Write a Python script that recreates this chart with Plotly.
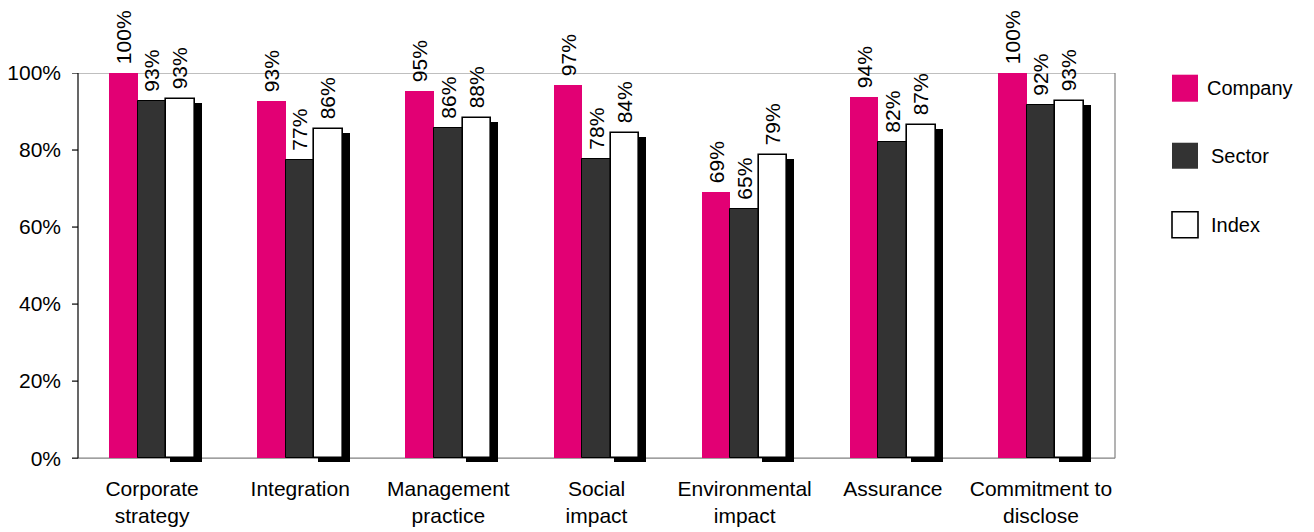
import plotly.graph_objects as go

# Scores per dimension (%)
categories = ["Corporate<br>strategy", "Integration", "Management<br>practice",
              "Social<br>impact", "Environmental<br>impact", "Assurance",
              "Commitment to<br>disclose"]
company = [100.0, 92.8, 95.3, 96.9, 69.2, 93.8, 100.0]
sector = [92.8, 77.4, 85.6, 77.7, 64.8, 82.0, 91.8]
index = [93.3, 85.5, 88.4, 84.4, 78.8, 86.6, 92.7]
series_names = ["Company", "Sector", "Index"]
y_ticks = [0, 20, 40, 60, 80, 100]

MAGENTA = "#E20074"
DARK = "#333333"
FONT = "Liberation Sans, Arial, sans-serif"
FS = 21

W, H = 1314, 532
PX0, PX1 = 78, 1115          # plot area horizontal extent (px)
PY_TOP = 73.3                # pixel row of 100%
UNIT = 3.85                  # px per percentage point
Y_MIN = -1.0
PY_BOT = PY_TOP + (100 - Y_MIN) * UNIT
CAT_W = (PX1 - PX0) / len(categories)

def paper_x(px):
    return (px - PX0) / (PX1 - PX0)

def paper_y(py):
    return (PY_BOT - py) / (PY_BOT - PY_TOP)

xs = list(range(len(categories)))
bw = 0.193
shadow_drop = 4 / UNIT       # shadow sits a few px lower than the index bar
shadow_base = -3.5 / UNIT

label_font = dict(family=FONT, size=FS, color="black")
# leading no-break space lifts the rotated label a little off the bar
label_tpl = "\u00a0%{y:.0f}%"

fig = go.Figure()

fig.add_trace(go.Bar(
    x=xs, y=company, offset=-0.29, width=bw, name="Company",
    marker=dict(color=MAGENTA, line=dict(width=0)),
    texttemplate=label_tpl, textposition="outside", textangle=-90,
    textfont=label_font, constraintext="none", cliponaxis=False, showlegend=False))

fig.add_trace(go.Bar(
    x=xs, y=sector, offset=-0.097, width=bw, name="Sector",
    marker=dict(color=DARK, line=dict(width=1, color="black")),
    texttemplate=label_tpl, textposition="outside", textangle=-90,
    textfont=label_font, constraintext="none", cliponaxis=False, showlegend=False))

# drop shadow behind the index bars
fig.add_trace(go.Bar(
    x=xs, y=[v - shadow_drop - shadow_base for v in index], base=shadow_base,
    offset=0.096 + 3.5 / CAT_W, width=32 / CAT_W,
    marker=dict(color="black", line=dict(width=0)),
    hoverinfo="skip", showlegend=False, cliponaxis=False))

fig.add_trace(go.Bar(
    x=xs, y=index, offset=0.096, width=bw, name="Index",
    marker=dict(color="white", line=dict(width=1.6, color="black")),
    texttemplate=label_tpl, textposition="outside", textangle=-90,
    textfont=label_font, constraintext="none", cliponaxis=False, showlegend=False))

shapes = [
    # frame: top, right and bottom in grey
    dict(type="line", xref="paper", yref="y", x0=0, x1=1, y0=100, y1=100,
         line=dict(color="#808080", width=1.2), layer="below"),
    dict(type="line", xref="paper", yref="y", x0=1, x1=1, y0=0, y1=100,
         line=dict(color="#808080", width=1.2), layer="below"),
    dict(type="line", xref="paper", yref="y", x0=0, x1=1, y0=0, y1=0,
         line=dict(color="#808080", width=1.2), layer="below"),
    # value axis line
    dict(type="line", xref="paper", yref="y", x0=0, x1=0, y0=0, y1=100,
         line=dict(color="black", width=1.2)),
]
for t in y_ticks:
    shapes.append(dict(type="line", xref="paper", yref="y",
                       x0=paper_x(PX0 - 6), x1=0, y0=t, y1=t,
                       line=dict(color="black", width=1.2)))

# legend
legend_rows = [(75, 102, MAGENTA, None), (143, 169, DARK, None), (212, 238, "white", "black")]
annotations = []
for (top, bot, fill, edge), name in zip(legend_rows, series_names):
    shapes.append(dict(type="rect", xref="paper", yref="paper",
                       x0=paper_x(1172), x1=paper_x(1198),
                       y0=paper_y(bot), y1=paper_y(top),
                       fillcolor=fill,
                       line=dict(color=edge or fill, width=1.6 if edge else 0)))
    annotations.append(dict(xref="paper", yref="paper",
                            x=paper_x(1205 if name == "Company" else 1209),
                            y=paper_y((top + bot) / 2),
                            text=name, showarrow=False, xanchor="left", yanchor="middle",
                            font=dict(family=FONT, size=FS - 1, color="black")))

fig.update_layout(
    width=W, height=H,
    margin=dict(l=PX0, r=W - PX1, t=PY_TOP, b=H - PY_BOT, pad=0, autoexpand=False),
    paper_bgcolor="white", plot_bgcolor="white",
    barmode="overlay", bargap=0,
    font=dict(family=FONT, size=FS, color="black"),
    shapes=shapes, annotations=annotations,
    xaxis=dict(range=[-0.5, len(categories) - 0.5], tickmode="array",
               tickvals=xs, ticktext=categories, showgrid=False, showline=False,
               zeroline=False, ticks="", ticklabelstandoff=12, automargin=False,
               tickfont=dict(family=FONT, size=FS, color="black")),
    yaxis=dict(range=[Y_MIN, 100], tickmode="array", tickvals=y_ticks,
               ticktext=[f"{t}%" for t in y_ticks], showgrid=False, showline=False,
               zeroline=False, ticks="", ticklabelstandoff=16, automargin=False,
               tickfont=dict(family=FONT, size=FS, color="black")),
)

fig.write_html("out.html")
